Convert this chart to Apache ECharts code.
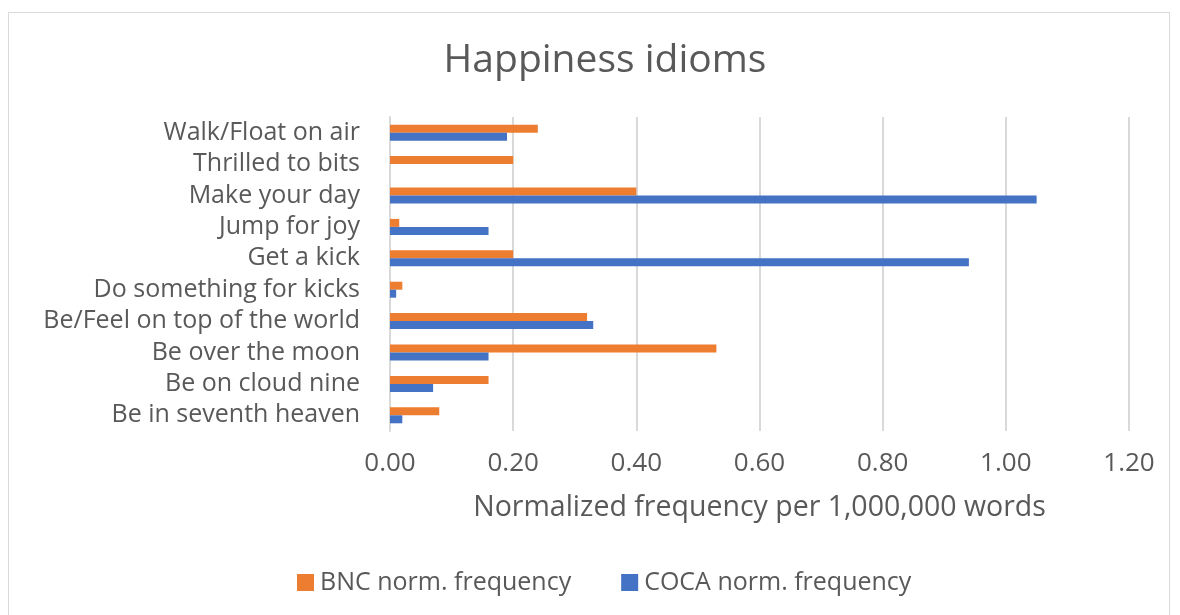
<!DOCTYPE html>
<html>
<head>
<meta charset="UTF-8">
<title>Happiness idioms</title>
<script src="https://cdn.jsdelivr.net/npm/echarts@6/dist/echarts.min.js"></script>
<style>
body { margin: 0; background: #fff; }
#frame { position: absolute; left: 8px; top: 12px; width: 1162px; height: 610px; border: 1px solid #d9d9d9; box-sizing: border-box; }
#chart { width: 1180px; height: 615px; }
</style>
</head>
<body>
<div id="frame"></div>
<div id="chart"></div>
<script>
// categories, bottom to top as on the axis
var idioms = ['Be in seventh heaven', 'Be on cloud nine', 'Be over the moon',
	'Be/Feel on top of the world', 'Do something for kicks', 'Get a kick',
	'Jump for joy', 'Make your day', 'Thrilled to bits', 'Walk/Float on air'];
var bnc = [0.08, 0.16, 0.53, 0.32, 0.02, 0.20, 0.015, 0.40, 0.20, 0.24];
var coca = [0.02, 0.07, 0.16, 0.33, 0.01, 0.94, 0.16, 1.05, 0, 0.19];

var chart = echarts.init(document.getElementById('chart'));
var txt = '#595959';
var font = '"Open Sans", "Noto Sans", sans-serif';

chart.setOption({
	animation: false,
	textStyle: { fontFamily: font },
	title: {
		text: 'Happiness idioms',
		left: 600, top: 36, textAlign: 'center',
		textStyle: { fontSize: 39, fontWeight: 'normal', color: txt, fontFamily: font }
	},
	legend: {
		data: ['BNC norm. frequency', 'COCA norm. frequency'],
		left: 292, top: 565,
		itemWidth: 17, itemHeight: 17, itemGap: 50,
		icon: 'rect',
		textStyle: { fontSize: 25, color: txt, padding: [0, 0, 0, 1] }
	},
	grid: { left: 390, right: 51, top: 117, bottom: 184 },
	xAxis: {
		type: 'value', min: 0, max: 1.2, interval: 0.2,
		name: 'Normalized frequency per 1,000,000 words',
		nameLocation: 'middle', nameGap: 62,
		nameTextStyle: { fontSize: 28.5, color: txt },
		axisLabel: { fontSize: 26, color: txt, margin: 20,
			formatter: function (v) { return v.toFixed(2); } },
		axisLine: { show: false },
		axisTick: { show: false },
		splitLine: { lineStyle: { color: '#d9d9d9', width: 2 } }
	},
	yAxis: {
		type: 'category', data: idioms,
		axisLine: { lineStyle: { color: '#d9d9d9', width: 2 } },
		axisTick: { show: false },
		axisLabel: { fontSize: 25, color: txt, margin: 30, interval: 0 }
	},
	series: [
		{ name: 'BNC norm. frequency', type: 'bar', data: bnc,
			barWidth: 8, barGap: '0%', itemStyle: { color: '#ed7d31' } },
		{ name: 'COCA norm. frequency', type: 'bar', data: coca,
			barWidth: 8, barGap: '0%', itemStyle: { color: '#4472c4' } }
	]
});
</script>
</body>
</html>
